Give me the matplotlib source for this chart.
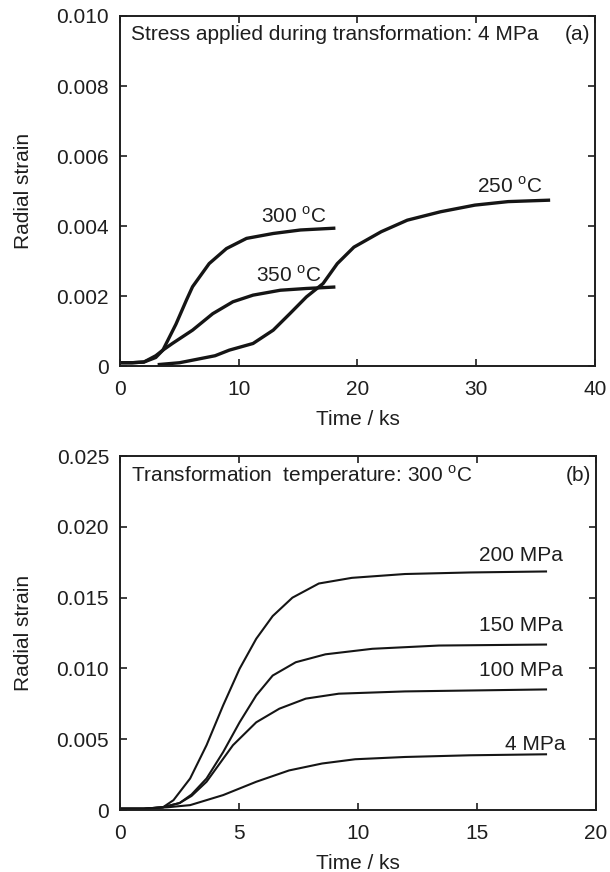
import matplotlib
matplotlib.use("Agg")
import matplotlib.pyplot as plt
from matplotlib.ticker import FixedLocator, FixedFormatter

plt.rcParams['font.family'] = ['Liberation Sans', 'DejaVu Sans']
plt.rcParams['mathtext.fontset'] = 'custom'
plt.rcParams['mathtext.rm'] = 'Liberation Sans'

# ---- Panel (a): stress 4 MPa, different temperatures ----
t300 = [0, 1, 2, 3, 3.6, 4.7, 5.6, 6.1, 7.5, 8.96, 10.65, 12.9, 15.2, 18]
e300 = [0.0001, 0.0001, 0.00012, 0.00025, 0.00046, 0.0012, 0.0019, 0.00227, 0.00293, 0.00336, 0.00365, 0.00379, 0.00389, 0.00394]

t350 = [0, 1, 2, 3, 3.6, 4.4, 6.1, 7.8, 9.5, 11.2, 13.5, 15.7, 18]
e350 = [0.0001, 0.0001, 0.00012, 0.0003, 0.00046, 0.00065, 0.00103, 0.0015, 0.00184, 0.00203, 0.00217, 0.00222, 0.00226]

t250 = [3.3, 5, 8, 9.2, 11.2, 12.9, 14.3, 15.7, 17.1, 18.3, 19.7, 22, 24.2, 27, 29.9, 32.7, 36.1]
e250 = [0.00005, 0.0001, 0.0003, 0.00046, 0.00065, 0.00103, 0.0015, 0.00198, 0.00236, 0.00293, 0.0034, 0.00384, 0.00417, 0.00441, 0.0046, 0.0047, 0.00474]

# ---- Panel (b): 300 C, different stresses ----
t200 = [0, 1, 1.8, 2.24, 2.94, 3.63, 4.33, 5.02, 5.72, 6.41, 7.24, 8.35, 9.74, 11.97, 14.7, 17.9]
e200 = [0.0001, 0.0001, 0.0002, 0.0007, 0.00223, 0.00458, 0.0074, 0.00998, 0.0121, 0.0137, 0.0150, 0.0160, 0.0164, 0.01667, 0.01678, 0.01685]

t150 = [0, 1, 1.8, 2.5, 3.0, 3.63, 4.33, 5.02, 5.72, 6.41, 7.38, 8.63, 10.6, 13.4, 17.9]
e150 = [0.0001, 0.0001, 0.0002, 0.0005, 0.0011, 0.00223, 0.0041, 0.0062, 0.0081, 0.0095, 0.01044, 0.0110, 0.01139, 0.01162, 0.01169]

t100 = [0, 1, 1.8, 2.5, 3.0, 3.63, 4.74, 5.72, 6.69, 7.8, 9.19, 11.97, 17.9]
e100 = [0.0001, 0.0001, 0.0002, 0.0005, 0.0010, 0.0020, 0.00458, 0.0062, 0.00716, 0.00787, 0.00822, 0.00838, 0.00852]

t4 = [0, 1, 2, 2.94, 4.33, 5.72, 7.1, 8.49, 9.88, 11.97, 14.7, 17.9]
e4 = [0.0001, 0.0001, 0.0002, 0.00035, 0.00106, 0.002, 0.0028, 0.00329, 0.00359, 0.00375, 0.00387, 0.00394]

a_xticks = [0, 10, 20, 30, 40]
a_yticks = [0, 0.002, 0.004, 0.006, 0.008, 0.010]
a_ylabels = ["0", "0.002", "0.004", "0.006", "0.008", "0.010"]
b_xticks = [0, 5, 10, 15, 20]
b_yticks = [0, 0.005, 0.010, 0.015, 0.020, 0.025]
b_ylabels = ["0", "0.005", "0.010", "0.015", "0.020", "0.025"]

fig = plt.figure(figsize=(6.1, 8.72), dpi=100)
ax1 = fig.add_axes([0.197, 0.580, 0.778, 0.4017])
ax2 = fig.add_axes([0.197, 0.071, 0.780, 0.406])

FS = 15
TC = '#1e1e1e'

def style(ax, xt, yt, yl, xlim, ylim):
    ax.set_xlim(*xlim)
    ax.set_ylim(*ylim)
    ax.xaxis.set_major_locator(FixedLocator(xt))
    ax.set_xticklabels([str(v) for v in xt])
    ax.yaxis.set_major_locator(FixedLocator(yt))
    ax.yaxis.set_major_formatter(FixedFormatter(yl))
    ax.tick_params(direction='in', top=True, right=True, length=5, width=1.2,
                   labelsize=FS, colors=TC)
    ax.tick_params(axis='x', pad=10)
    ax.tick_params(axis='y', pad=8)
    for s in ax.spines.values():
        s.set_linewidth(1.4)
        s.set_color(TC)
    ax.set_xlabel("Time / ks", fontsize=FS, labelpad=8, color=TC)
    ax.set_ylabel("Radial strain", fontsize=FS, labelpad=17, color=TC)

lc = '#151515'
ax1.plot(t300, e300, color=lc, lw=2.4)
ax1.plot(t350, e350, color=lc, lw=2.4)
ax1.plot(t250, e250, color=lc, lw=2.4)
style(ax1, a_xticks, a_yticks, a_ylabels, (0, 40), (0, 0.010))
ax1.text(0.023, 0.946, "Stress applied during transformation: 4 MPa", transform=ax1.transAxes,
         fontsize=FS, va='center', ha='left', color=TC)
ax1.text(0.99, 0.946, "(a)", transform=ax1.transAxes, fontsize=FS, va='center', ha='right', color=TC)
ax1.text(17.4, 0.0041, r"300 $^{\rm o}$C", fontsize=FS, ha='right', va='baseline', color=TC)
ax1.text(17.0, 0.0024, r"350 $^{\rm o}$C", fontsize=FS, ha='right', va='baseline', color=TC)
ax1.text(35.6, 0.00495, r"250 $^{\rm o}$C", fontsize=FS, ha='right', va='baseline', color=TC)

ax2.plot(t200, e200, color=lc, lw=1.5)
ax2.plot(t150, e150, color=lc, lw=1.5)
ax2.plot(t100, e100, color=lc, lw=1.5)
ax2.plot(t4, e4, color=lc, lw=1.5)
style(ax2, b_xticks, b_yticks, b_ylabels, (0, 20), (0, 0.025))
ax2.text(0.023, 0.945, r"Transformation  temperature: 300 $^{\rm o}$C", transform=ax2.transAxes,
         fontsize=FS, va='center', ha='left', color=TC)
ax2.text(0.99, 0.945, "(b)", transform=ax2.transAxes, fontsize=FS, va='center', ha='right', color=TC)
ax2.text(18.6, 0.0176, "200 MPa", fontsize=FS, ha='right', va='baseline', color=TC)
ax2.text(18.6, 0.01268, "150 MPa", fontsize=FS, ha='right', va='baseline', color=TC)
ax2.text(18.6, 0.0095, "100 MPa", fontsize=FS, ha='right', va='baseline', color=TC)
ax2.text(18.7, 0.00423, "4 MPa", fontsize=FS, ha='right', va='baseline', color=TC)

fig.savefig("out.png", dpi=100)
